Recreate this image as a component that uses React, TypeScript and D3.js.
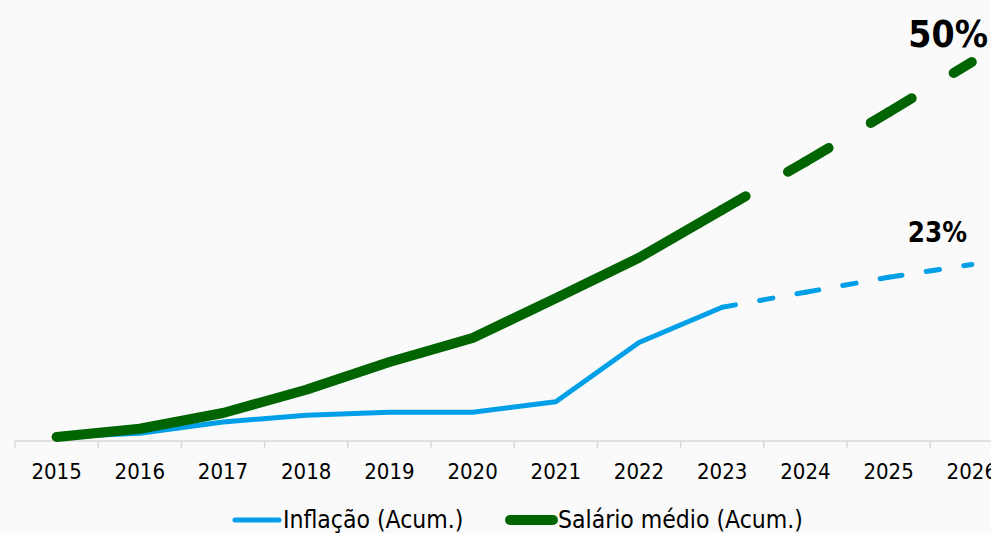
import React from "react";
import * as d3 from "d3";

const years = ["2015","2016","2017","2018","2019","2020","2021","2022","2023","2024","2025","2026"];
const inflacao = [0, 0.5, 2.0, 2.9, 3.3, 3.3, 4.7, 12.6, 17.3, 19.3, 21.3, 23];
const salario = [0, 1.1, 3.2, 6.3, 10.0, 13.2, 18.5, 23.9, 30.3, 36.7, 43.3, 50];
const forecastStart = "2023";
const seriesNames = ["Inflação (Acum.)", "Salário médio (Acum.)"];
const endLabels = ["23%", "50%"];

const W = 991, H = 533;
const BLUE = "#009FE8";
const GREEN = "#006400";
const FONT = "'DejaVu Sans Condensed', 'DejaVu Sans', sans-serif";

export default function App() {
  const x = d3.scaleBand<string>().domain(years).range([15, 15 + 12 * 83.2]).padding(0);
  const cx = (yr: string) => (x(yr) as number) + x.bandwidth() / 2;
  const y = d3.scaleLinear().domain([0, 50]).range([437, 62]);
  const line = d3.line<[string, number]>().x(d => cx(d[0])).y(d => y(d[1]));
  const fi = years.indexOf(forecastStart);

  const solid = (vals: number[]) => line(years.slice(0, fi + 1).map((yr, i) => [yr, vals[i]]));
  const segs = (vals: number[]) => {
    const out: string[] = [];
    for (let i = fi; i < years.length - 1; i++) {
      out.push(line([[years[i], vals[i]], [years[i + 1], vals[i + 1]]]) as string);
    }
    return out;
  };
  const ticks = years.map(yr => x(yr) as number).concat([(x(years[years.length - 1]) as number) + x.bandwidth()]);

  return (
    <div style={{ position: "fixed", left: 0, top: 0, width: W, height: H, background: "#fafafa" }}>
      <svg width={W} height={H} style={{ display: "block", fontFamily: FONT, fontStretch: "condensed" }}>
        <rect x={0} y={0} width={W} height={H} fill="#fafafa" />
        {/* axis */}
        <line x1={15} x2={1020} y1={441} y2={441} stroke="#d9d9d9" strokeWidth={1.5} />
        {ticks.map((t, i) => (
          <line key={i} x1={t} x2={t} y1={441} y2={448} stroke="#d9d9d9" strokeWidth={1.5} />
        ))}
        {years.map(yr => (
          <text key={yr} x={cx(yr)} y={478.5} textAnchor="middle" fontSize={22} fill="#000">{yr}</text>
        ))}
        {/* inflação */}
        <path d={solid(inflacao) as string} fill="none" stroke={BLUE} strokeWidth={5} strokeLinejoin="round" strokeLinecap="round" />
        {segs(inflacao).map((d, i) => (
          <path key={i} d={d} fill="none" stroke={BLUE} strokeWidth={5} strokeLinecap="round" strokeDasharray="13.5 24.5" />
        ))}
        {/* salário */}
        <path d={solid(salario) as string} fill="none" stroke={GREEN} strokeWidth={10} strokeLinejoin="round" strokeLinecap="round" />
        {segs(salario).map((d, i) => (
          <path key={i} d={d} fill="none" stroke={GREEN} strokeWidth={10} strokeLinecap="round" strokeDasharray="27 49" />
        ))}
        {/* end labels */}
        <text x={967} y={242} textAnchor="end" fontSize={27.5} fontWeight="bold" fill="#000">{endLabels[0]}</text>
        <text x={988} y={47} textAnchor="end" fontSize={37} fontWeight="bold" fill="#000">{endLabels[1]}</text>
        {/* legend */}
        <line x1={235} x2={279} y1={520} y2={520} stroke={BLUE} strokeWidth={5} strokeLinecap="round" />
        <text x={283} y={528} fontSize={24.5} fill="#000">{seriesNames[0]}</text>
        <line x1={510} x2={553} y1={520} y2={520} stroke={GREEN} strokeWidth={10} strokeLinecap="round" />
        <text x={558} y={528} fontSize={24.5} fill="#000">{seriesNames[1]}</text>
      </svg>
    </div>
  );
}
